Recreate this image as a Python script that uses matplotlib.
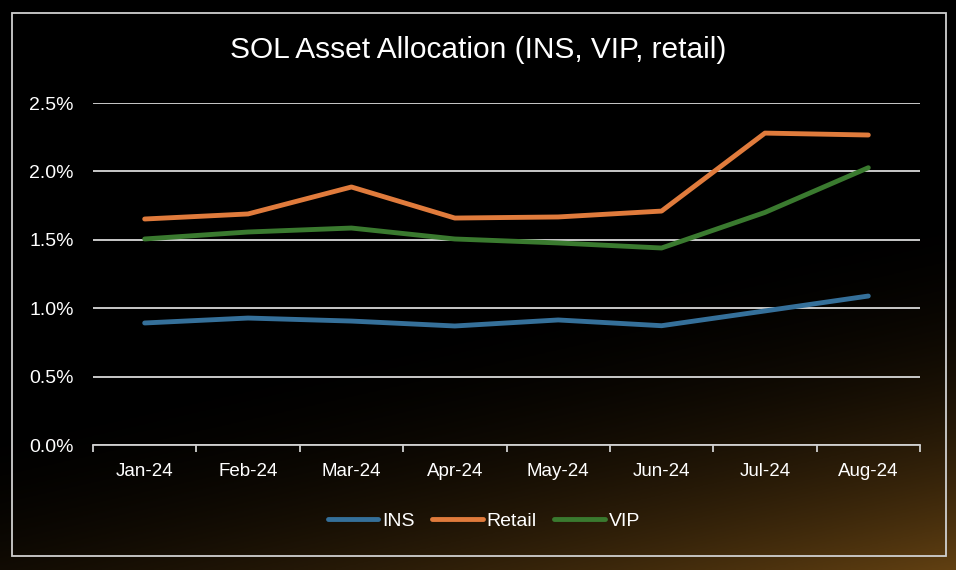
import numpy as np
import matplotlib
matplotlib.use("Agg")
import matplotlib.pyplot as plt
from matplotlib.patches import Rectangle
from matplotlib.ticker import FuncFormatter, FixedLocator

months = ["Jan-24", "Feb-24", "Mar-24", "Apr-24", "May-24", "Jun-24", "Jul-24", "Aug-24"]
ins = [0.892, 0.928, 0.906, 0.870, 0.914, 0.872, 0.980, 1.089]
retail = [1.652, 1.689, 1.886, 1.659, 1.667, 1.710, 2.280, 2.266]
vip = [1.506, 1.557, 1.586, 1.506, 1.477, 1.440, 1.700, 2.027]
series_names = ["INS", "Retail", "VIP"]
colors = ["#35709A", "#E07B3C", "#3A7A2F"]
y_ticks = [0.0, 0.5, 1.0, 1.5, 2.0, 2.5]
title = "SOL Asset Allocation (INS, VIP, retail)"

plt.rcParams['font.family'] = ['Liberation Sans', 'DejaVu Sans']

W, H = 956, 570
fig = plt.figure(figsize=(W / 100, H / 100), dpi=100)

# background gradient
bg = fig.add_axes([0, 0, 1, 1], zorder=-10)
xx, yy = np.meshgrid(np.linspace(0, 1, 400), np.linspace(0, 1, 240))
f = np.clip((0.38 * xx + yy - 0.72) / 0.66, 0, 1) ** 2
base = np.array([0.38, 0.25, 0.07])
img = f[..., None] * base[None, None, :]
bg.imshow(img, extent=[0, 1, 1, 0], aspect='auto', origin='upper')
bg.set_xlim(0, 1)
bg.set_ylim(1, 0)
bg.axis('off')

# border
fig.patches.append(Rectangle((12 / W, 1 - 556 / H), 934 / W, 543 / H,
                             transform=fig.transFigure, fill=False,
                             edgecolor='#d0d0d0', linewidth=1.3, zorder=5))

ax = fig.add_axes([93 / W, 1 - 445 / H, 827 / W, 342 / H])
ax.set_facecolor('none')
x = np.arange(len(months))
for vals, name, c in zip([ins, retail, vip], series_names, colors):
    ax.plot(x, vals, color=c, linewidth=3.5, solid_capstyle='round',
            solid_joinstyle='round', label=name, zorder=3)

ax.set_xlim(-0.5, len(months) - 0.5)
ax.set_ylim(0, 2.5)
ax.set_yticks(y_ticks)
ax.yaxis.set_major_formatter(FuncFormatter(lambda v, p: f"{v:.1f}%"))
ax.set_xticks(x)
ax.set_xticklabels(months)
ax.xaxis.set_minor_locator(FixedLocator(np.arange(-0.5, len(months), 1.0)))
ax.tick_params(axis='x', which='major', length=0, pad=13, labelsize=13.5, colors='white')
ax.tick_params(axis='x', which='minor', length=5, width=1.3, color='#d0d0d0', direction='out')
ax.tick_params(axis='y', length=0, pad=14, labelsize=14, colors='white')
ax.grid(axis='y', color='#d9d9d9', linewidth=1.3, zorder=1)
for s in ['top', 'right', 'left']:
    ax.spines[s].set_visible(False)
ax.spines['bottom'].set_color('#d0d0d0')
ax.spines['bottom'].set_linewidth(1.3)

fig.text(0.5, 1 - 50 / H, title, ha='center', va='center', fontsize=21.5, color='white')

leg = fig.legend(loc='center', bbox_to_anchor=(484 / W, 1 - 521 / H), ncol=3, frameon=False,
                 fontsize=14, handlelength=2.6, handletextpad=0.2, columnspacing=0.9,
                 labelcolor='white')

fig.savefig("out.png", dpi=100)
